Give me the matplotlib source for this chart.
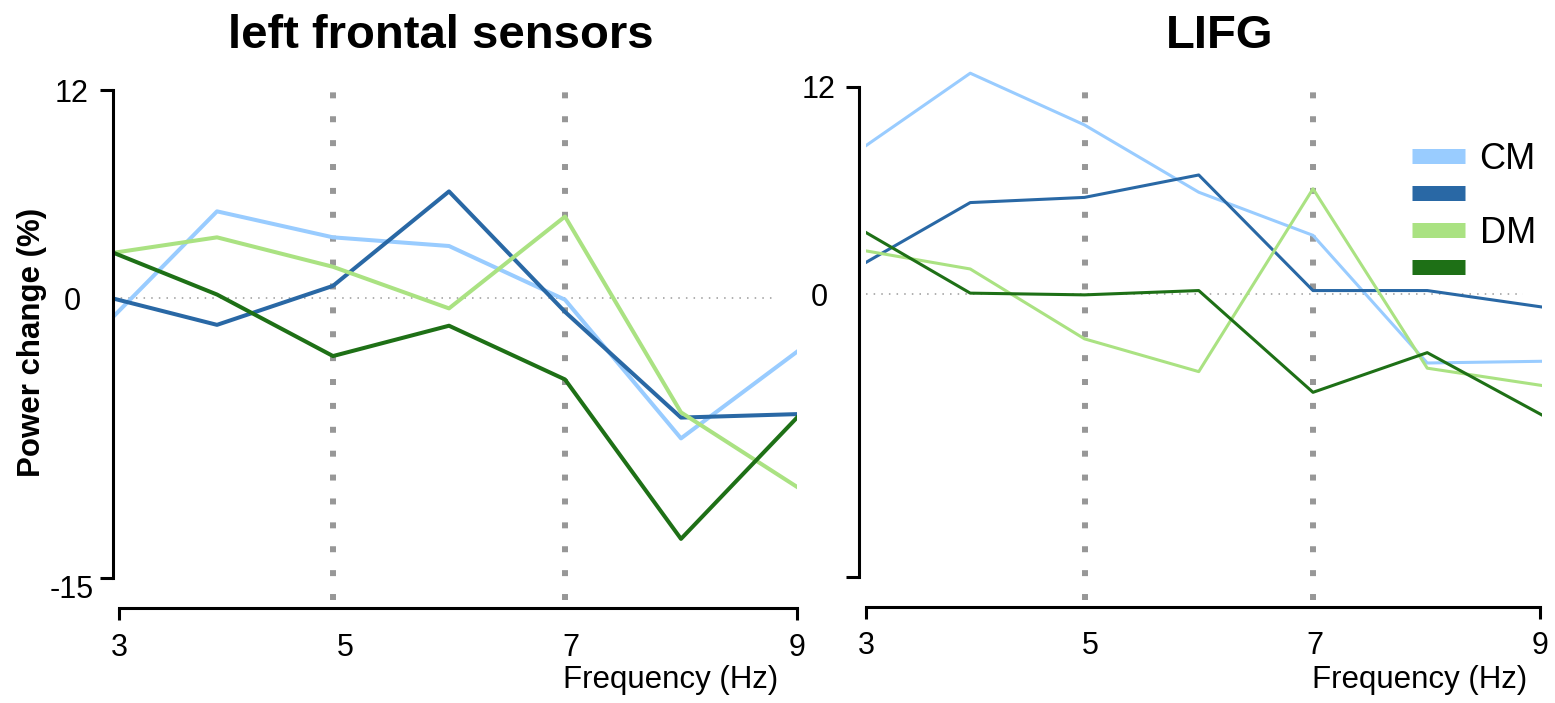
import matplotlib
matplotlib.use("Agg")
import matplotlib.pyplot as plt
from matplotlib.lines import Line2D
from matplotlib.transforms import ScaledTranslation

plt.rcParams['font.family'] = ['Liberation Sans', 'DejaVu Sans']
plt.rcParams['axes.unicode_minus'] = False

W, H = 1555, 703
PT = 0.72  # points per pixel at dpi=100

freqs = [3, 4, 5, 6, 7, 8, 9]

# left frontal sensors, power change (%)
cm_light_lf = [-1.8, 5.0, 3.5, 3.0, -0.1, -8.1, -3.1]
cm_dark_lf = [0.15, -1.55, 0.7, 6.15, -0.8, -6.9, -6.7]
dm_light_lf = [2.5, 3.5, 1.8, -0.6, 4.7, -6.6, -10.9]
dm_dark_lf = [2.9, 0.2, -3.35, -1.6, -4.7, -13.9, -6.9]

# LIFG, power change (%)
cm_light_ifg = [8.2, 12.8, 9.8, 5.9, 3.4, -4.0, -3.9]
cm_dark_ifg = [1.5, 5.3, 5.6, 6.9, 0.2, 0.2, -0.75]
dm_light_ifg = [2.6, 1.45, -2.6, -4.5, 6.1, -4.3, -5.3]
dm_dark_ifg = [3.9, 0.05, -0.05, 0.2, -5.7, -3.4, -7.0]

colors = ['#99ccff', '#2968a5', '#aae282', '#1e7016']
legend_labels = ['CM', '', 'DM', '']
marker_freqs = [5, 7]

# pixel geometry of each panel
left_geom = dict(plot_px=(113, 797), top=60, bottom=605, f3_px=101, hz_px=116.0,
                 zero_px=298, unit_px=17.33, yaxis_x=113, yaxis_px=(90, 578),
                 xaxis_y=608, xaxis_px=(119, 797), tick_center=72,
                 title_x=441, xlabel_x=671, zero_end=777, lw=2.9,
                 ylabels=['-15', '12'])
right_geom = dict(plot_px=(866, 1542), top=60, bottom=605, f3_px=856, hz_px=114.25,
                  zero_px=294, unit_px=17.25, yaxis_x=859, yaxis_px=(87, 577),
                  xaxis_y=607, xaxis_px=(866, 1540), tick_center=819,
                  title_x=1220, xlabel_x=1420, zero_end=1523, lw=2.2,
                  ylabels=['', '12'])


def add_px_axes(fig, left, top, right, bottom):
    return fig.add_axes([left / W, 1 - bottom / H, (right - left) / W, (bottom - top) / H])


def draw_panel(fig, title, series, g):
    l, r = g['plot_px']
    ax = add_px_axes(fig, l, g['top'], r, g['bottom'])
    ax.set_xlim(3 + (l - g['f3_px']) / g['hz_px'], 3 + (r - g['f3_px']) / g['hz_px'])
    ax.set_ylim((g['zero_px'] - g['bottom']) / g['unit_px'],
                (g['zero_px'] - g['top']) / g['unit_px'])
    ax.patch.set_alpha(0)
    for sp in ax.spines.values():
        sp.set_visible(False)
    ax.set_xticks([])
    ax.set_yticks([0])
    ax.tick_params(axis='y', length=0, pad=(l - g['tick_center']) * PT, labelsize=22)
    for lab in ax.get_yticklabels():
        lab.set_ha('center')

    # dotted markers at 5 and 7 Hz, and the zero line
    span = g['bottom'] - g['top']
    for f in marker_freqs:
        ax.axvline(f, ymin=(g['bottom'] - 600) / span, ymax=(g['bottom'] - 88) / span,
                   color='#979797', lw=4.3, ls=(0, (1, 3)), zorder=1)
    ax.axhline(0, xmin=0, xmax=(g['zero_end'] - l) / (r - l), color='#9a9a9a',
               lw=1.1, ls=(0, (1, 4)), zorder=1)

    for vals, c in zip(series, colors):
        ax.plot(freqs, vals, color=c, lw=g['lw'], zorder=3)

    # offset y axis
    ya = add_px_axes(fig, g['yaxis_x'], g['yaxis_px'][0], g['yaxis_x'] + 1, g['yaxis_px'][1])
    ya.set_ylim(-15, 12)
    ya.set_yticks([-15, 12])
    ya.set_yticklabels(g['ylabels'])
    ya.set_xticks([])
    ya.patch.set_visible(False)
    for name in ['top', 'right', 'bottom']:
        ya.spines[name].set_visible(False)
    ya.spines['left'].set_linewidth(2.2)
    ya.tick_params(axis='y', length=13 * PT, width=2.2,
                   pad=(g['yaxis_x'] - 13 - g['tick_center']) * PT, labelsize=22)
    labs = ya.get_yticklabels()
    for lab in labs:
        lab.set_ha('center')
    # bottom label sits a little under its tick
    labs[0].set_transform(labs[0].get_transform() +
                          ScaledTranslation(0, -9 / 100, fig.dpi_scale_trans))

    # offset x axis
    x0, x1 = g['xaxis_px']
    xa = add_px_axes(fig, x0, g['xaxis_y'] - 1, x1, g['xaxis_y'])
    xa.set_xlim(3, 9)
    xa.set_xticks([3, 5, 7, 9])
    xa.set_yticks([])
    xa.patch.set_visible(False)
    for name in ['top', 'right', 'left']:
        xa.spines[name].set_visible(False)
    xa.spines['bottom'].set_linewidth(2.2)
    xa.tick_params(axis='x', length=12 * PT, width=2.2, pad=9, labelsize=22)
    for t in xa.xaxis.get_major_ticks()[1:3]:
        t.tick1line.set_visible(False)

    fig.text(g['title_x'] / W, 1 - 48 / H, title, ha='center', va='baseline',
             fontsize=34, fontweight='bold')
    fig.text(g['xlabel_x'] / W, 1 - 688 / H, 'Frequency (Hz)', ha='center',
             va='baseline', fontsize=22.5)
    return ax


fig = plt.figure(figsize=(W / 100, H / 100), dpi=100)

draw_panel(fig, 'left frontal sensors',
           [cm_light_lf, cm_dark_lf, dm_light_lf, dm_dark_lf], left_geom)
ax_r = draw_panel(fig, 'LIFG',
                  [cm_light_ifg, cm_dark_ifg, dm_light_ifg, dm_dark_ifg], right_geom)

fig.text(32 / W, 1 - 342 / H, 'Power change (%)', rotation=90, ha='center',
         va='center', fontsize=22.5, fontweight='bold')

handles = [Line2D([], [], color=c, lw=10.8, solid_capstyle='butt') for c in colors]
ax_r.legend(handles, legend_labels, loc='upper left',
            bbox_to_anchor=(1412 / W, 1 - 142 / H), bbox_transform=fig.transFigure,
            frameon=False, fontsize=26, handlelength=1.47, handletextpad=0.4,
            labelspacing=0.05, borderpad=0, borderaxespad=0)

fig.savefig('out.png', dpi=100)
